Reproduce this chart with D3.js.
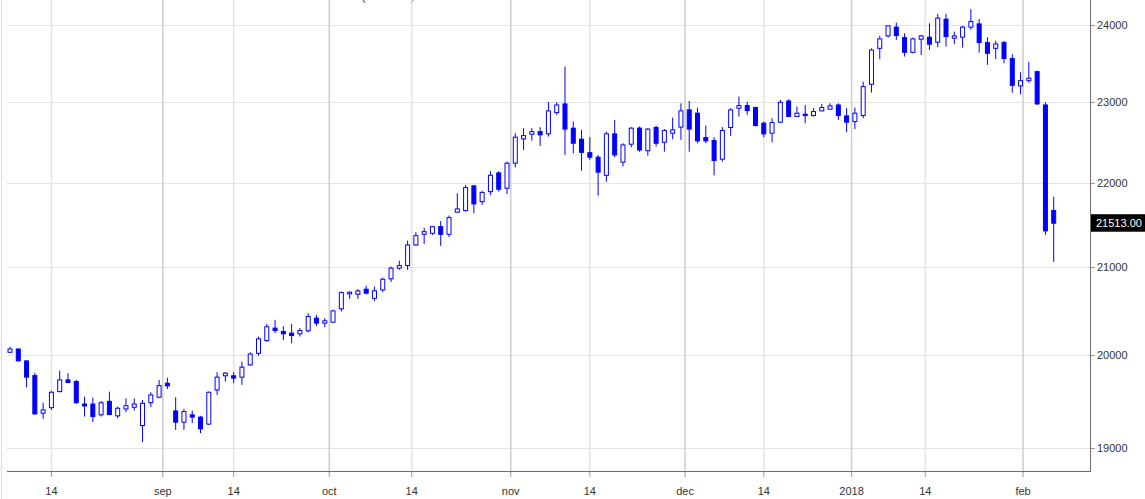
<!DOCTYPE html>
<html><head><meta charset="utf-8">
<script src="https://cdn.jsdelivr.net/npm/d3@7"></script>
<style>html,body{margin:0;padding:0;background:#fff;overflow:hidden}</style>
</head><body>
<svg id="chart" width="1145" height="499"></svg>
<script>
const open = [20034,20070,19939,19778,19372,19431,19604,19731,19713,19470,
 19470,19354,19499,19343,19417,19435,19240,19484,19543,19695,
 19396,19276,19354,19330,19255,19622,19776,19776,19761,19895,
 20023,20164,20303,20265,20247,20239,20273,20415,20359,20370,
 20520,20690,20686,20744,20640,20736,20863,20986,21016,21256,
 21382,21394,21472,21382,21644,21663,21961,21770,21891,22119,
 21932,22238,22538,22596,22629,22601,22867,22977,22672,22534,
 22367,22311,22090,22601,22250,22472,22672,22391,22680,22496,
 22609,22685,22902,22860,22554,22517,22287,22680,22923,22956,
 22931,22734,22609,22747,23014,22818,22847,22830,22889,22910,
 22964,22826,22755,22830,23228,23693,23856,23972,23834,23641,
 23813,23839,23773,24078,23826,23839,23972,24015,23768,23693,
 23768,23560,23206,23274,23390,22964,21665];
const high = [20096,20075,19945,19808,19484,19611,19833,19804,19731,19549,
 19538,19502,19604,19442,19531,19531,19513,19597,19731,19755,
 19543,19418,19400,19343,19604,19816,19816,19816,19931,20034,
 20209,20351,20396,20324,20350,20303,20471,20452,20415,20509,
 20717,20717,20744,20785,20774,20877,21005,21074,21307,21406,
 21460,21481,21539,21604,21872,21973,21973,21903,22139,22139,
 22257,22609,22672,22672,22684,23005,22998,23456,22755,22650,
 22559,22339,22629,22775,22484,22684,22692,22672,22705,22660,
 22804,22985,23014,22930,22705,22559,22685,22923,23070,23005,
 22943,22755,22797,23027,23036,22943,22964,22923,22977,22985,
 22985,22923,22931,23261,23693,23856,23989,24032,23892,23834,
 23870,24024,24148,24148,23913,23989,24210,24078,23839,23794,
 23790,23616,23382,23519,23403,22998,21830];
const low = [20030,19935,19652,19358,19311,19407,19597,19700,19470,19336,
 19277,19336,19355,19318,19382,19400,19064,19436,19532,19632,
 19194,19194,19266,19159,19248,19568,19713,19695,19677,19888,
 19997,20149,20247,20171,20134,20209,20254,20325,20314,20359,
 20490,20633,20633,20686,20610,20709,20827,20966,20966,21248,
 21268,21374,21245,21350,21644,21651,21632,21731,21851,21891,
 21863,22185,22400,22516,22450,22567,22839,22338,22359,22145,
 22278,21842,22010,22311,22197,22434,22379,22330,22442,22379,
 22534,22526,22379,22484,22484,22088,22257,22576,22818,22839,
 22692,22559,22496,22734,22810,22815,22734,22818,22885,22905,
 22775,22621,22660,22797,23121,23553,23834,23803,23585,23628,
 23606,23671,23707,23715,23746,23702,23936,23637,23478,23551,
 23499,23121,23100,23248,22964,21375,21059];
const close = [20070,19939,19761,19364,19407,19597,19731,19702,19484,19449,
 19336,19484,19357,19425,19452,19470,19478,19568,19669,19666,
 19276,19389,19330,19205,19597,19761,19804,19750,19870,20015,
 20183,20318,20276,20239,20220,20276,20433,20359,20385,20497,
 20705,20709,20725,20698,20725,20858,20986,21016,21256,21366,
 21413,21472,21382,21580,21683,21940,21743,21882,22090,21920,
 22238,22559,22579,22629,22588,22889,22964,22660,22484,22371,
 22311,22128,22601,22339,22463,22672,22400,22660,22484,22642,
 22650,22889,22660,22513,22513,22270,22642,22902,22956,22893,
 22705,22601,22742,22998,22818,22860,22830,22880,22931,22952,
 22830,22747,22860,23198,23671,23817,23989,23860,23641,23817,
 23856,23747,24091,23847,23856,23972,24046,23768,23628,23750,
 23560,23213,23274,23305,22977,21422,21513];

const yTicks = [19000, 20000, 21000, 22000, 23000, 24000];
const xTickLabels = ["14","sep","14","oct","14","nov","14","dec","14","2018","14","feb"];
const xTickPos = [5, 18.45, 27, 38.55, 48.5, 60.45, 70, 81.5, 91, 101.6, 110.5, 122.3];
const xTickMajor = [false,true,false,true,false,true,false,true,false,true,false,true];
const lastPrice = 21513;
const titleText = "(N225)";

const svg = d3.select("#chart");
const L = 7, R = 1090, T = 0, B = 471;
const x = d3.scaleLinear().domain([0, open.length - 1]).range([10, 1053.7]);
const y = d3.scaleLog().domain([19000, 24000]).range([448.3, 25]);
const font = "'Liberation Sans', Arial, sans-serif";

svg.append("defs").append("clipPath").attr("id","clip")
  .append("rect").attr("x", L).attr("y", T).attr("width", R - L).attr("height", B - T);

// partially visible title (cut off by the top edge)
svg.append("text").attr("x", 361).attr("y", -0.5)
  .attr("font-family", font).attr("font-size", 14).attr("fill", "#555")
  .attr("textLength", 54).attr("lengthAdjust", "spacing")
  .text(titleText);

// left border
svg.append("line").attr("x1",1.5).attr("x2",1.5).attr("y1",0).attr("y2",499)
  .attr("stroke","#dcdcdc").attr("stroke-width",1);

// horizontal grid
svg.append("g").selectAll("line").data(yTicks).join("line")
  .attr("x1", L).attr("x2", R)
  .attr("y1", d => Math.round(y(d)) + 0.5).attr("y2", d => Math.round(y(d)) + 0.5)
  .attr("stroke", "#e3e3e3").attr("stroke-width", 1);

// vertical grid
svg.append("g").selectAll("line").data(xTickPos).join("line")
  .attr("x1", d => x(d)).attr("x2", d => x(d))
  .attr("y1", T).attr("y2", B)
  .attr("stroke", (d, i) => xTickMajor[i] ? "#cfcfcf" : "#e4e4e4")
  .attr("stroke-width", 1.6);

// candles
const idx = d3.range(open.length);
const cg = svg.append("g").attr("clip-path","url(#clip)");
cg.selectAll("line.wick").data(idx).join("line").attr("class","wick")
  .attr("x1", i => x(i)).attr("x2", i => x(i))
  .attr("y1", i => y(high[i])).attr("y2", i => y(low[i]))
  .attr("stroke", "#0000ff").attr("stroke-width", 1);
cg.selectAll("rect.body").data(idx).join("rect").attr("class","body")
  .attr("x", i => x(i) - 2).attr("width", 4)
  .attr("y", i => y(Math.max(open[i], close[i])))
  .attr("height", i => Math.max(1, y(Math.min(open[i], close[i])) - y(Math.max(open[i], close[i]))))
  .attr("fill", i => close[i] < open[i] ? "#0000ff" : "#ffffff")
  .attr("stroke", "#0000ff").attr("stroke-width", 1);

// bottom axis
svg.append("line").attr("x1", L).attr("x2", R).attr("y1", B + 0.5).attr("y2", B + 0.5)
  .attr("stroke", "#6e6e6e").attr("stroke-width", 1);
svg.append("g").selectAll("line").data(xTickPos).join("line")
  .attr("x1", d => x(d)).attr("x2", d => x(d)).attr("y1", B + 1).attr("y2", B + 6)
  .attr("stroke", "#9a9a9a").attr("stroke-width", 1);
svg.append("g").selectAll("text").data(xTickPos).join("text")
  .attr("x", d => x(d)).attr("y", 495)
  .attr("text-anchor", "middle").attr("font-family", font).attr("font-size", 11)
  .attr("fill", "#333").text((d, i) => xTickLabels[i]);

// right axis
svg.append("line").attr("x1", R + 0.5).attr("x2", R + 0.5).attr("y1", 0).attr("y2", B + 1)
  .attr("stroke", "#6e6e6e").attr("stroke-width", 1);
svg.append("g").selectAll("line").data(yTicks).join("line")
  .attr("x1", R + 1).attr("x2", R + 5)
  .attr("y1", d => Math.round(y(d)) + 0.5).attr("y2", d => Math.round(y(d)) + 0.5)
  .attr("stroke", "#9a9a9a");
svg.append("g").selectAll("text").data(yTicks).join("text")
  .attr("x", 1097).attr("y", d => y(d) + 4)
  .attr("font-family", font).attr("font-size", 11).attr("fill", "#333")
  .text(d => d);

// last price tag
const ly = y(lastPrice);
svg.append("rect").attr("x", R + 1).attr("y", ly - 9).attr("width", 60).attr("height", 17.5)
  .attr("fill", "#000");
svg.append("text").attr("x", 1096).attr("y", ly + 4)
  .attr("font-family", font).attr("font-size", 11).attr("fill", "#fff")
  .text(lastPrice.toFixed(2));
</script>
</body></html>
